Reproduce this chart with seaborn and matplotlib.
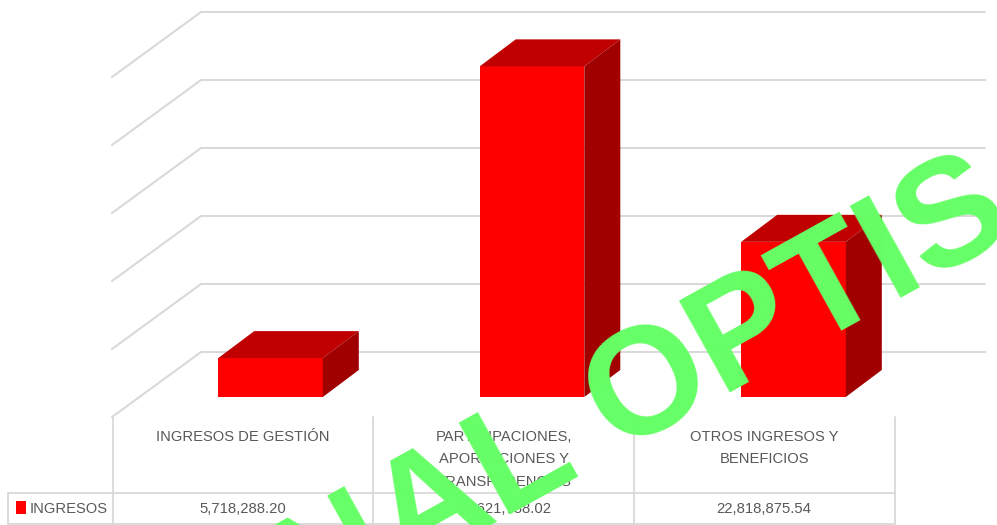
import numpy as np
import pandas as pd
import matplotlib
matplotlib.use("Agg")
import matplotlib.pyplot as plt
from matplotlib.patches import Polygon
import seaborn as sns

# data
categorias = ["INGRESOS DE GESTIÓN", "PARTICIPACIONES, APORTACIONES Y TRANSFERENCIAS", "OTROS INGRESOS Y BENEFICIOS"]
etiquetas = ["INGRESOS DE GESTIÓN", "PARTICIPACIONES,\nAPORTACIONES Y\nTRANSFERENCIAS", "OTROS INGRESOS Y\nBENEFICIOS"]
ingresos = [5718288.20, 48621738.02, 22818875.54]
serie = "INGRESOS"
grid_vals = [0, 10, 20, 30, 40, 50]  # millones

sns.set_theme(style="white")
plt.rcParams['font.family'] = ['Liberation Sans', 'DejaVu Sans']

W, H = 997, 525
fig = plt.figure(figsize=(W / 100, H / 100), dpi=100)
gris = "#595959"
linea = "#D9D9D9"

# fondo en pixeles: rejilla y tabla
bg = fig.add_axes([0, 0, 1, 1], zorder=0)
bg.set_xlim(0, W)
bg.set_ylim(H, 0)
bg.axis("off")

px_m = 6.8          # pixeles por millon
y0_back = 352       # cero en la pared del fondo
for v in grid_vals:
    y = y0_back - v * px_m
    bg.plot([112, 201], [y + 65, y], color=linea, lw=1.5)
    bg.plot([201, 985], [y, y], color=linea, lw=1.5)

# tabla de datos
for x in [113, 373, 634, 895]:
    bg.plot([x, x], [417, 524], color=linea, lw=1.3)
bg.plot([8, 8], [493, 524], color=linea, lw=1.3)
bg.plot([8, 895], [493, 493], color=linea, lw=1.3)
bg.plot([8, 895], [523.5, 523.5], color=linea, lw=1.3)

centros = [243, 504, 764]
for cx, lab, val in zip(centros, etiquetas, ingresos):
    bg.text(cx, 430, lab, ha="center", va="top", fontsize=10.6, color=gris, linespacing=1.75)
    bg.text(cx, 509, f"{val:,.2f}", ha="center", va="center", fontsize=10.7, color=gris)
bg.add_patch(plt.Rectangle((16, 501), 10, 13, color="#FF0000", lw=0))
bg.text(30, 509, serie, ha="left", va="center", fontsize=10.6, color=gris)

# barras (cara frontal con seaborn)
y_pix0 = 397
top_m = 58.5
ax = fig.add_axes([139.75 / W, (H - y_pix0) / H, 784.5 / W, top_m * px_m / H], zorder=1)
ax.patch.set_alpha(0)
df = pd.DataFrame({"categoria": categorias, "valor": np.array(ingresos) / 1e6})
sns.barplot(data=df, x="categoria", y="valor", color="#FF0000", saturation=1,
            width=0.40, ax=ax, edgecolor="none")
ax.set_xlim(-0.5, 2.5)
ax.set_ylim(0, top_m)
ax.axis("off")

# caras superior y lateral
dx = 36 / 261.5
dy = 27 / px_m
for p in ax.patches:
    x0, w, h = p.get_x(), p.get_width(), p.get_height()
    x1 = x0 + w
    top = Polygon([(x0, h), (x1, h), (x1 + dx, h + dy), (x0 + dx, h + dy)],
                  closed=True, facecolor="#C00000", edgecolor="none")
    side = Polygon([(x1, 0), (x1 + dx, dy), (x1 + dx, h + dy), (x1, h)],
                   closed=True, facecolor="#A00000", edgecolor="none")
    ax.add_patch(top)
    ax.add_patch(side)

# marca de agua
wm = fig.add_axes([0, 0, 1, 1], zorder=2)
wm.set_xlim(0, W)
wm.set_ylim(H, 0)
wm.axis("off")
wm.text(585, 428, "FINAL OPTIS", rotation=29, ha="center", va="center",
        fontsize=110, fontweight="bold", color="#66FF66")

fig.savefig("out.png", dpi=100)
